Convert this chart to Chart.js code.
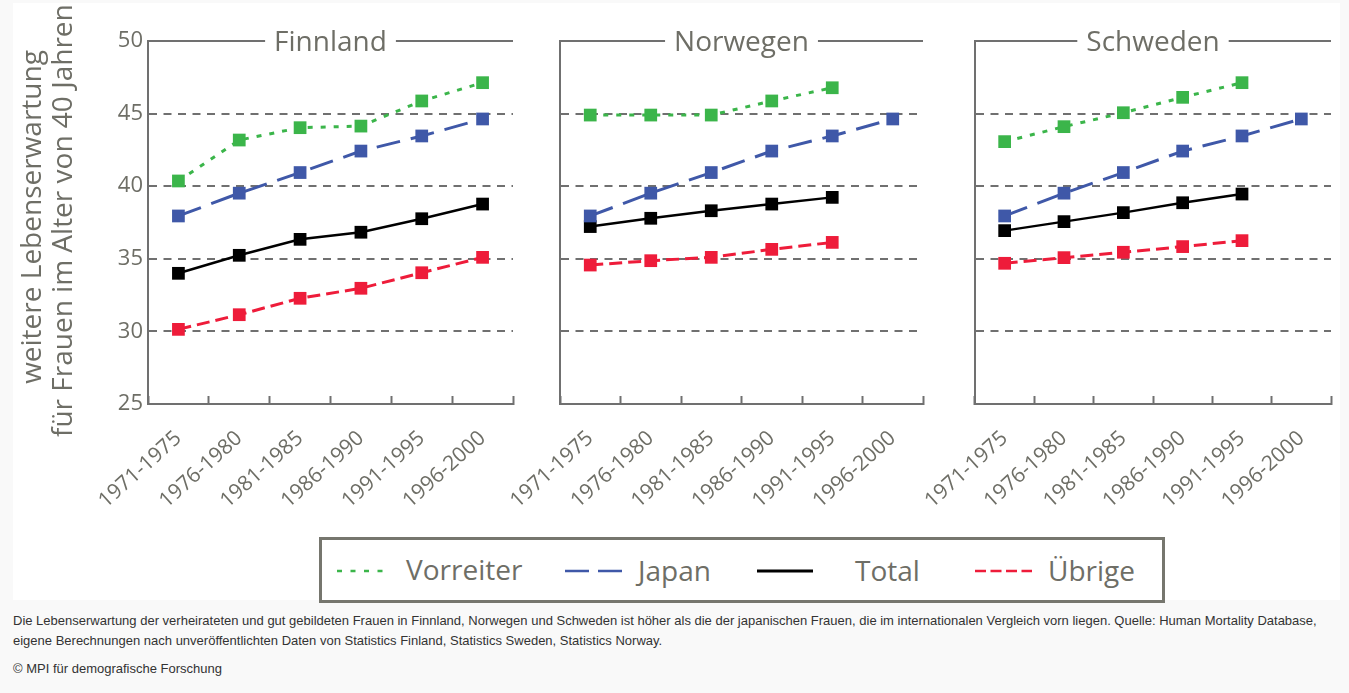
<!DOCTYPE html>
<html lang="de">
<head>
<meta charset="utf-8">
<title>Lebenserwartung verheirateter Frauen mit 40</title>
<script src="https://cdn.jsdelivr.net/npm/chart.js@4.4.0/dist/chart.umd.min.js"></script>
<style>
  html, body { margin: 0; padding: 0; background: #f9f9f9; }
  body { width: 1349px; height: 693px; position: relative; overflow: hidden; }
  #figure { position: absolute; left: 13px; top: 3px; width: 1327px; height: 597px; background: #fff; overflow: hidden; }
  #figure canvas { position: absolute; top: 0; }
  #legend { position: absolute; left: 319px; top: 537px; }
  .caption { position: absolute; left: 13px; margin: 0; font: 13px "Liberation Sans", Arial, sans-serif; color: #333; line-height: 20px; }
</style>
</head>
<body>
<div id="figure">
  <canvas id="finnland" width="517" height="527" style="left:0px"></canvas>
  <canvas id="norwegen" width="470" height="527" style="left:457px"></canvas>
  <canvas id="schweden" width="455" height="527" style="left:872px"></canvas>
</div>

<svg id="legend" width="846" height="66">
  <rect x="1.5" y="1.5" width="843" height="63" fill="#fff" stroke="#76766e" stroke-width="3"/>
  <line x1="18" y1="34" x2="72" y2="34" stroke="#3bb54a" stroke-width="2.5" stroke-dasharray="5 8.5"/>
  <text x="87" y="43" font-family="Open Sans" font-size="28" fill="#6e6e66">Vorreiter</text>
  <line x1="246" y1="34" x2="303" y2="34" stroke="#3f58a8" stroke-width="2.5" stroke-dasharray="24 9"/>
  <text x="319" y="44" font-family="Open Sans" font-size="28" fill="#6e6e66">Japan</text>
  <line x1="438" y1="34" x2="494" y2="34" stroke="#000" stroke-width="3"/>
  <text x="536" y="44" font-family="Open Sans" font-size="28" fill="#6e6e66">Total</text>
  <line x1="656" y1="34" x2="713" y2="34" stroke="#ee1c3a" stroke-width="2.5" stroke-dasharray="11 4.5"/>
  <text x="729" y="44" font-family="Open Sans" font-size="28" fill="#6e6e66">Übrige</text>
</svg>

<p class="caption" style="top:611px">Die Lebenserwartung der verheirateten und gut gebildeten Frauen in Finnland, Norwegen und Schweden ist höher als die der japanischen Frauen, die im internationalen Vergleich vorn liegen. Quelle: Human Mortality Database,<br>eigene Berechnungen nach unveröffentlichten Daten von Statistics Finland, Statistics Sweden, Statistics Norway.</p>
<p class="caption" style="top:659px">© MPI für demografische Forschung</p>

<script>
// Daten
const perioden = ['1971-1975', '1976-1980', '1981-1985', '1986-1990', '1991-1995', '1996-2000'];
const yMin = 25;
const yMax = 50;
const yStep = 5;
const gridWerte = [30, 35, 40, 45];

const japan = [37.95, 39.52, 40.94, 42.42, 43.46, 44.63];

const finnlandVorreiter = [40.36, 43.18, 44.03, 44.14, 45.87, 47.13];
const finnlandTotal = [34.0, 35.24, 36.34, 36.83, 37.76, 38.77];
const finnlandUebrige = [30.14, 31.15, 32.28, 32.97, 34.04, 35.1];

const norwegenVorreiter = [44.9, 44.9, 44.9, 45.87, 46.78, null];
const norwegenTotal = [37.22, 37.79, 38.31, 38.77, 39.23, null];
const norwegenUebrige = [34.57, 34.87, 35.1, 35.65, 36.13, null];

const schwedenVorreiter = [43.07, 44.1, 45.06, 46.12, 47.13, null];
const schwedenTotal = [36.94, 37.56, 38.18, 38.86, 39.46, null];
const schwedenUebrige = [34.69, 35.08, 35.45, 35.84, 36.25, null];

const grau = '#707070';
const textGrau = '#6e6e66';

function linie(label, data, color, dash, width) {
  return {
    label: label,
    data: data,
    borderColor: color,
    backgroundColor: color,
    borderWidth: width,
    borderDash: dash,
    pointStyle: 'rect',
    pointRadius: 9,
    pointHoverRadius: 9,
    pointBorderWidth: 0,
    tension: 0
  };
}

// obere Rahmenlinie mit Ländername
const rahmenPlugin = {
  id: 'rahmen',
  afterDraw(chart, args, opts) {
    const ctx = chart.ctx;
    const a = chart.chartArea;
    ctx.save();
    ctx.font = '28px "Open Sans"';
    const w = ctx.measureText(opts.text).width;
    const mid = (a.left + a.right) / 2;
    ctx.strokeStyle = grau;
    ctx.lineWidth = 2;
    ctx.beginPath();
    ctx.moveTo(a.left - 1, a.top);
    ctx.lineTo(mid - w / 2 - 9, a.top);
    ctx.moveTo(mid + w / 2 + 9, a.top);
    ctx.lineTo(a.right, a.top);
    ctx.stroke();
    ctx.fillStyle = textGrau;
    ctx.textAlign = 'center';
    ctx.textBaseline = 'alphabetic';
    ctx.fillText(opts.text, mid, a.top + 10);
    ctx.restore();
  }
};

// zweizeiliger Achsentitel, nur links (zweite Zeile wird oben abgeschnitten)
const yTitelPlugin = {
  id: 'yTitel',
  afterDraw(chart, args, opts) {
    if (!opts.lines) return;
    const ctx = chart.ctx;
    ctx.save();
    ctx.font = '28px "Open Sans"';
    ctx.fillStyle = textGrau;
    ctx.textBaseline = 'middle';
    ctx.translate(20, 214);
    ctx.rotate(-Math.PI / 2);
    ctx.textAlign = 'center';
    ctx.fillText(opts.lines[0], 0, 0);
    ctx.restore();
    ctx.save();
    ctx.font = '28px "Open Sans"';
    ctx.fillStyle = textGrau;
    ctx.textBaseline = 'middle';
    ctx.translate(51, 434);
    ctx.rotate(-Math.PI / 2);
    ctx.textAlign = 'left';
    ctx.fillText(opts.lines[1], 0, 0);
    ctx.restore();
  }
};

function panel(id, land, vorreiter, total, uebrige, yBreite, rechts, mitLabels) {
  new Chart(document.getElementById(id), {
    type: 'line',
    data: {
      labels: perioden,
      datasets: [
        linie('Vorreiter', vorreiter, '#3bb54a', [5, 8], 3),
        linie('Japan', japan, '#3f58a8', [24, 11], 3),
        linie('Total', total, '#000000', [], 2.5),
        linie('Übrige', uebrige, '#ee1c3a', [13, 6], 3)
      ]
    },
    options: {
      responsive: false,
      animation: false,
      devicePixelRatio: 1,
      layout: { padding: { top: 38, right: rechts, left: 0, bottom: 0 } },
      plugins: {
        legend: { display: false },
        tooltip: { enabled: false },
        rahmen: { text: land },
        yTitel: { lines: mitLabels ? ['weitere Lebenserwartung', 'für Frauen im Alter von 40 Jahren'] : null }
      },
      scales: {
        x: {
          offset: true,
          grid: {
            offset: true,
            drawOnChartArea: false,
            drawTicks: true,
            tickLength: -8,
            tickColor: grau,
            tickWidth: 2
          },
          border: { color: grau, width: 2 },
          ticks: {
            autoSkip: false,
            minRotation: 42,
            maxRotation: 42,
            padding: 30,
            color: textGrau,
            font: { family: 'Open Sans', size: 21 }
          },
          afterFit(scale) {
            scale.height = 126;
            scale.paddingLeft = 0;
            scale.paddingRight = 0;
          }
        },
        y: {
          min: yMin,
          max: yMax,
          grid: {
            drawTicks: false,
            lineWidth: 2,
            color: (c) => gridWerte.includes(c.tick && c.tick.value) ? grau : 'rgba(0,0,0,0)'
          },
          border: { color: grau, width: 2, dash: [8, 6.5] },
          ticks: {
            display: mitLabels,
            stepSize: yStep,
            padding: 5,
            color: textGrau,
            font: { family: 'Open Sans', size: 22 }
          },
          afterFit(scale) {
            scale.width = yBreite;
          }
        }
      }
    },
    plugins: [rahmenPlugin, yTitelPlugin]
  });
}

panel('finnland', 'Finnland', finnlandVorreiter, finnlandTotal, finnlandUebrige, 135, 17, true);
panel('norwegen', 'Norwegen', norwegenVorreiter, norwegenTotal, norwegenUebrige, 90, 17, false);
panel('schweden', 'Schweden', schwedenVorreiter, schwedenTotal, schwedenUebrige, 90, 2, false);
</script>
</body>
</html>
